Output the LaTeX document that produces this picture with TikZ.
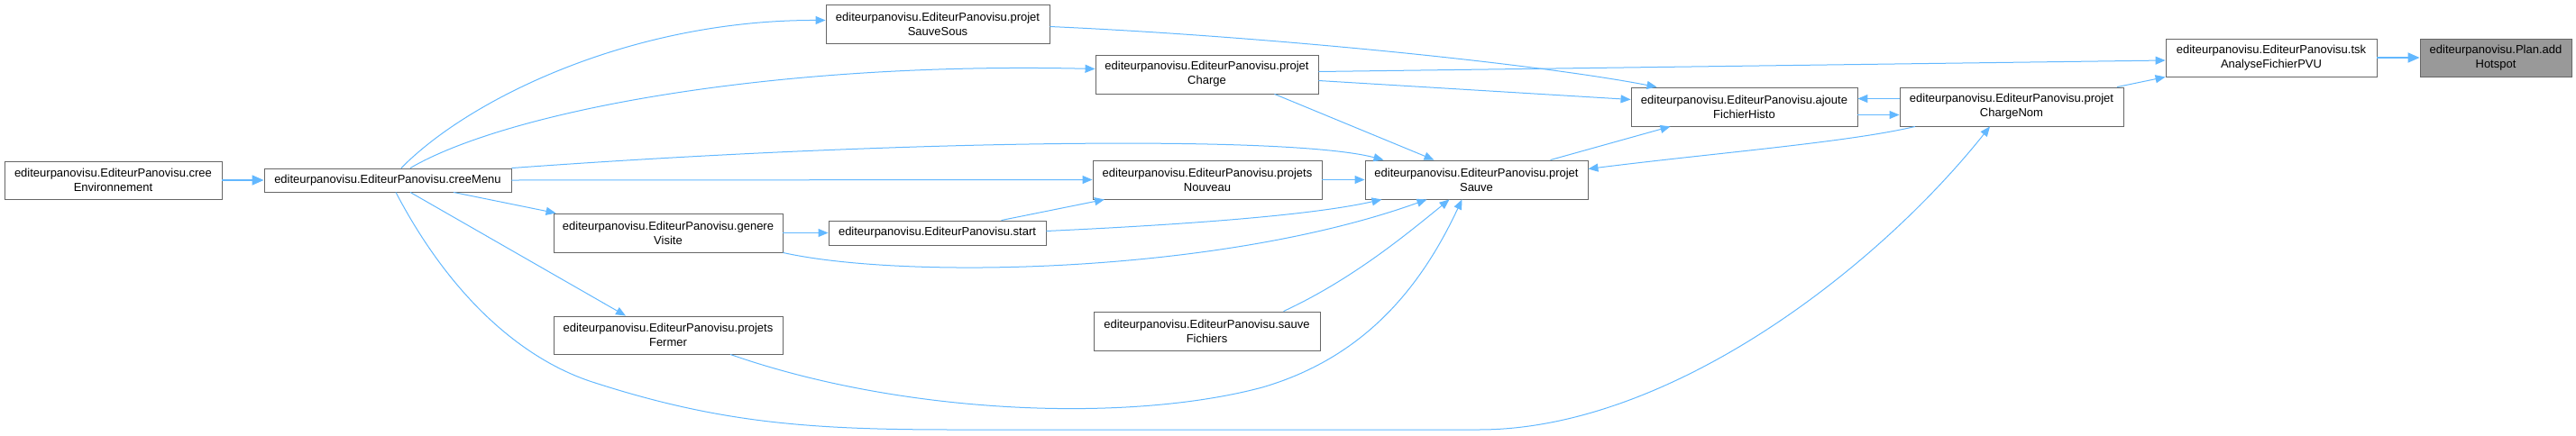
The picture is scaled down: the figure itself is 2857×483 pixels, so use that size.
\documentclass[tikz,border=0pt]{standalone}
\usepackage{fontspec}
\setmainfont{Liberation Sans}
\usetikzlibrary{arrows.meta,calc}
\definecolor{edgeblue}{HTML}{63B8FF}
\definecolor{boxborder}{HTML}{666666}
\definecolor{hotfill}{HTML}{999999}
\begin{document}
\begin{tikzpicture}[x=1pt,y=-1pt,
  fn/.style={draw=boxborder, line width=0.9pt, fill=white, inner sep=0pt, align=center,
    font=\fontsize{13}{16}\selectfont, text=black},
  hot/.style={fn, fill=hotfill},
  edge/.style={draw=edgeblue, line width=1pt, -{Triangle[length=11pt,width=9pt]}},
  thickedge/.style={edge, line width=1.8pt, -{Triangle[length=13pt,width=11pt]}},
]
\useasboundingbox (0,0) rectangle (2857,483);

% nodes
\node[fn, minimum width=241pt, minimum height=42pt] (env) at (125.5,200) {editeurpanovisu.EditeurPanovisu.cree\\Environnement};
\node[fn, minimum width=274pt, minimum height=26pt] (menu) at (430,200) {editeurpanovisu.EditeurPanovisu.creeMenu};
\node[fn, minimum width=248pt, minimum height=43pt] (sous) at (1040,26.5) {editeurpanovisu.EditeurPanovisu.projet\\SauveSous};
\node[fn, minimum width=247pt, minimum height=43pt] (charge) at (1338.5,82.5) {editeurpanovisu.EditeurPanovisu.projet\\Charge};
\node[fn, minimum width=254pt, minimum height=43pt] (nouveau) at (1339,199.5) {editeurpanovisu.EditeurPanovisu.projets\\Nouveau};
\node[fn, minimum width=254pt, minimum height=43pt] (genere) at (741,258.5) {editeurpanovisu.EditeurPanovisu.genere\\Visite};
\node[fn, minimum width=241pt, minimum height=27pt] (start) at (1039.5,258.5) {editeurpanovisu.EditeurPanovisu.start};
\node[fn, minimum width=254pt, minimum height=42pt] (fermer) at (741,372) {editeurpanovisu.EditeurPanovisu.projets\\Fermer};
\node[fn, minimum width=251pt, minimum height=43pt] (sauvef) at (1338.5,367.5) {editeurpanovisu.EditeurPanovisu.sauve\\Fichiers};
\node[fn, minimum width=247pt, minimum height=43pt] (sauve) at (1637.5,199.5) {editeurpanovisu.EditeurPanovisu.projet\\Sauve};
\node[fn, minimum width=251pt, minimum height=43pt] (ajoute) at (1934.5,118.5) {editeurpanovisu.EditeurPanovisu.ajoute\\FichierHisto};
\node[fn, minimum width=248pt, minimum height=43pt] (chargenom) at (2231,118.5) {editeurpanovisu.EditeurPanovisu.projet\\ChargeNom};
\node[fn, minimum width=234pt, minimum height=42pt] (tsk) at (2519,64) {editeurpanovisu.EditeurPanovisu.tsk\\AnalyseFichierPVU};
\node[hot, minimum width=168pt, minimum height=42pt] (hotspot) at (2768,64) {editeurpanovisu.Plan.add\\Hotspot};

% edges
\draw[thickedge] (env.east) -- (menu.west);
\draw[edge] ([xshift=15]menu.north) .. controls (520,110) and (700,22) .. ([yshift=4]sous.west);
\draw[edge] ([xshift=25]menu.north) .. controls (560,125) and (850,68) .. ([yshift=6]charge.west);
\draw[edge] (menu.north east) .. controls (1000,155) and (1430,150) .. ([xshift=-103]sauve.north);
\draw[edge] (menu.east) -- (nouveau.west);
\draw[edge] ([xshift=73]menu.south) -- ([xshift=3]genere.north west);
\draw[edge] ([xshift=25]menu.south) -- ([xshift=-47]fermer.north);
\draw[edge] ([xshift=9]menu.south) .. controls (500,330) and (580,400) .. (660,425)
  .. controls (800,470) and (900,477) .. (1060,477) -- (1640,477)
  .. controls (1850,477) and (2080,300) .. ([xshift=-24]chargenom.south);
\draw[edge] (genere.east) -- (start.west);
\draw[edge] (genere.south east) .. controls (1000,310) and (1350,305) .. ([xshift=-55]sauve.south);
\draw[edge] ([xshift=71]start.north) -- ([xshift=-114]nouveau.south);
\draw[edge] ([yshift=2]start.east) .. controls (1300,250) and (1450,240) .. ([xshift=-105]sauve.south);
\draw[edge] (nouveau.east) -- (sauve.west);
\draw[edge] ([xshift=69]fermer.south) .. controls (1000,460) and (1250,470) .. (1400,430)
  .. controls (1520,395) and (1580,310) .. ([xshift=-16]sauve.south);
\draw[edge] ([xshift=85]sauvef.north) .. controls (1500,310) and (1560,260) .. ([xshift=-30]sauve.south);
\draw[edge] ([xshift=75]charge.south) -- ([xshift=-47]sauve.north);
\draw[edge] ([yshift=-7]charge.east) -- ([yshift=8]ajoute.west);
\draw[edge] ([yshift=3]charge.east) -- ([yshift=-3]tsk.west);
\draw[edge] ([yshift=-3]sous.east) .. controls (1400,40) and (1700,70) .. ([xshift=-97]ajoute.north);
\draw[edge] ([xshift=82]sauve.north) -- ([xshift=-82]ajoute.south);
\draw[edge] ([xshift=-107]chargenom.south) .. controls (2050,158) and (1900,170) .. ([yshift=12]sauve.east);
\draw[edge] ([yshift=9]chargenom.west) -- ([yshift=9]ajoute.east);
\draw[edge] ([yshift=-9]ajoute.east) -- ([yshift=-9]chargenom.west);
\draw[edge] ([xshift=117]chargenom.north) -- (tsk.south west);
\draw[thickedge] (tsk.east) -- (hotspot.west);
\end{tikzpicture}
\end{document}
